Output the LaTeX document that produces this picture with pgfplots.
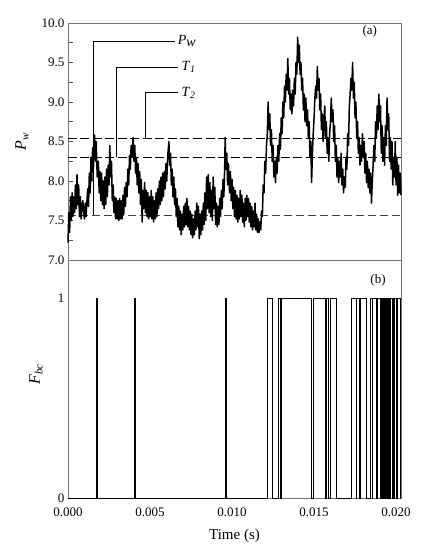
\documentclass[border=0pt]{standalone}
\usepackage{fontspec}
\setmainfont{Liberation Serif}
\usepackage{pgfplots}
\pgfplotsset{compat=1.18}

% time axis in ms, labelled in s
\pgfplotsset{panel/.style={scale only axis, width=333pt, xmin=0, xmax=20.3,
  axis line style={black!55, line width=0.7pt}, tick style={black!70, line width=0.6pt},
  tick align=inside, ticklabel style={font=\fontsize{13}{13}\selectfont},
  /pgf/number format/assume math mode=true}}

\begin{document}
\begin{tikzpicture}
\path[use as bounding box] (0,0) rectangle (421pt,550pt);

% (a) wall pressure with thresholds
\begin{axis}[panel, at={(68pt,290pt)}, anchor=south west, height=237pt,
  ymin=7, ymax=10, ytick={7,7.5,8,8.5,9,9.5,10},
  minor ytick={7.25,7.75,8.25,8.75,9.25,9.75}, ytick pos=left, xtick=\empty,
  yticklabel style={/pgf/number format/.cd,fixed,fixed zerofill,precision=1},
  major tick length=5pt, minor tick length=5pt, clip=false,
  ylabel={\fontsize{16}{16}\selectfont\textit{P}\textsubscript{\textit{w}}},
  ylabel style={at={(axis description cs:-0.138,0.5)}, anchor=center}]
\addplot[black, line width=1.3pt, dash pattern=on 9pt off 3.5pt] coordinates {(0,8.54)(20.3,8.54)};
\addplot[black, line width=1.3pt, dash pattern=on 9pt off 3.5pt] coordinates {(0,8.30)(20.3,8.30)};
\addplot[black!75, line width=0.7pt, dash pattern=on 8pt off 4pt] coordinates {(0,7.57)(20.3,7.57)};
\addplot[black, line width=1.5pt, line join=round] coordinates {
(0.00,7.22)(0.05,7.6)(0.10,7.35)(0.15,7.8)(0.20,7.5)(0.25,7.85)(0.30,7.55)(0.35,7.8)
(0.40,7.6)(0.45,7.95)(0.50,7.65)(0.55,8.08)(0.60,7.7)(0.65,7.95)(0.70,7.55)(0.75,7.8)
(0.80,7.52)(0.90,7.75)(1.00,7.52)(1.05,7.72)(1.10,7.55)(1.20,7.9)(1.25,7.68)(1.30,8.1)
(1.35,7.85)(1.40,8.3)(1.45,8.0)(1.50,8.42)(1.55,8.15)(1.62,8.58)(1.68,8.25)(1.72,8.5)
(1.78,8.05)(1.85,8.25)(1.90,7.85)(1.95,8.12)(2.00,7.75)(2.05,8.1)(2.10,7.7)(2.15,8.0)
(2.20,7.65)(2.25,8.05)(2.30,7.7)(2.35,8.15)(2.40,7.8)(2.45,8.2)(2.50,7.95)(2.55,8.45)
(2.60,8.05)(2.65,8.25)(2.70,7.75)(2.75,7.95)(2.80,7.6)(2.85,7.8)(2.90,7.52)(2.95,7.78)
(3.00,7.52)(3.05,7.75)(3.10,7.5)(3.15,7.78)(3.20,7.52)(3.25,7.75)(3.30,7.52)(3.35,7.82)
(3.40,7.58)(3.45,7.92)(3.50,7.68)(3.55,7.98)(3.60,7.8)(3.65,8.15)(3.70,7.95)(3.75,8.32)
(3.80,8.15)(3.85,8.45)(3.90,8.3)(3.97,8.55)(4.02,8.25)(4.07,8.45)(4.12,8.1)(4.17,8.3)
(4.22,7.95)(4.27,8.22)(4.32,7.85)(4.37,8.12)(4.42,7.7)(4.47,8.02)(4.52,7.48)(4.57,7.88)
(4.62,7.65)(4.67,7.98)(4.72,7.6)(4.77,7.88)(4.82,7.55)(4.87,7.85)(4.92,7.52)(4.97,7.8)
(5.02,7.55)(5.07,7.88)(5.12,7.52)(5.17,7.8)(5.22,7.48)(5.27,7.75)(5.32,7.52)(5.37,7.85)
(5.42,7.55)(5.47,7.9)(5.52,7.65)(5.57,8.0)(5.62,7.7)(5.67,8.05)(5.72,7.75)(5.77,8.1)
(5.82,7.8)(5.87,8.12)(5.92,7.9)(5.97,8.22)(6.02,8.0)(6.08,8.32)(6.15,8.5)(6.20,8.2)
(6.25,8.35)(6.30,7.95)(6.35,8.15)(6.40,7.8)(6.45,8.05)(6.50,7.7)(6.55,7.9)(6.60,7.55)
(6.65,7.78)(6.70,7.42)(6.75,7.68)(6.80,7.38)(6.85,7.62)(6.90,7.32)(6.95,7.58)(7.00,7.38)
(7.05,7.68)(7.10,7.42)(7.15,7.72)(7.20,7.45)(7.25,7.78)(7.30,7.42)(7.35,7.68)(7.40,7.38)
(7.45,7.62)(7.50,7.32)(7.55,7.58)(7.60,7.28)(7.65,7.52)(7.70,7.32)(7.75,7.62)(7.80,7.38)
(7.85,7.72)(7.90,7.42)(7.95,7.68)(8.00,7.27)(8.05,7.58)(8.10,7.32)(8.15,7.62)(8.20,7.38)
(8.25,7.72)(8.30,7.45)(8.35,7.85)(8.40,7.5)(8.45,8.05)(8.50,7.65)(8.55,8.08)(8.60,7.6)
(8.65,7.98)(8.70,7.55)(8.75,7.88)(8.80,7.5)(8.85,8.05)(8.90,7.65)(8.95,7.92)(9.00,7.45)
(9.05,7.72)(9.10,7.42)(9.15,7.68)(9.20,7.45)(9.25,7.78)(9.30,7.55)(9.35,7.88)(9.40,7.65)
(9.45,8.02)(9.50,7.8)(9.55,8.15)(9.58,8.55)(9.63,8.15)(9.68,8.35)(9.73,7.95)(9.78,8.22)
(9.85,7.85)(9.90,8.12)(9.95,7.75)(10.00,8.02)(10.05,7.65)(10.10,7.92)(10.15,7.55)(10.20,7.88)
(10.25,7.52)(10.30,7.82)(10.35,7.48)(10.40,7.78)(10.45,7.52)(10.50,7.88)(10.55,7.55)(10.60,7.82)
(10.65,7.48)(10.70,7.72)(10.75,7.42)(10.80,7.78)(10.85,7.5)(10.90,7.82)(10.95,7.55)(11.00,7.78)
(11.05,7.48)(11.10,7.72)(11.15,7.42)(11.20,7.68)(11.25,7.38)(11.30,7.62)(11.35,7.42)(11.40,7.72)
(11.45,7.38)(11.50,7.58)(11.55,7.35)(11.60,7.52)(11.65,7.35)(11.70,7.48)(11.75,7.38)(11.80,7.62)
(11.85,7.55)(11.90,7.95)(11.95,7.85)(12.00,8.25)(12.05,8.1)(12.10,8.45)(12.15,8.6)(12.20,9.0)
(12.25,8.65)(12.30,8.85)(12.35,8.45)(12.40,8.65)(12.45,8.25)(12.50,8.45)(12.55,8.05)(12.60,8.25)
(12.65,7.98)(12.70,8.3)(12.75,8.1)(12.80,8.45)(12.85,8.25)(12.90,8.6)(12.95,8.4)(13.00,8.8)
(13.05,8.6)(13.10,9.0)(13.15,8.8)(13.20,9.2)(13.25,9.0)(13.30,9.35)(13.35,9.15)(13.40,9.55)
(13.45,9.1)(13.50,9.3)(13.55,8.9)(13.60,9.1)(13.65,8.85)(13.70,9.15)(13.75,8.95)(13.80,9.3)
(13.85,9.1)(13.90,9.5)(13.95,9.35)(14.00,9.82)(14.05,9.5)(14.10,9.72)(14.15,9.35)(14.20,9.5)
(14.25,9.15)(14.30,9.3)(14.35,8.9)(14.40,9.1)(14.45,8.75)(14.50,9.05)(14.55,8.7)(14.60,8.9)
(14.65,8.55)(14.70,8.75)(14.75,8.3)(14.80,8.5)(14.85,7.98)(14.90,8.35)(14.95,8.6)(15.00,8.8)
(15.05,9.05)(15.10,9.2)(15.15,9.05)(15.20,9.45)(15.25,9.15)(15.30,9.3)(15.35,8.9)(15.40,9.1)
(15.45,8.65)(15.50,8.85)(15.55,8.5)(15.60,8.75)(15.65,8.95)(15.70,8.55)(15.75,8.75)(15.80,8.35)
(15.85,8.55)(15.90,8.25)(15.95,8.6)(16.00,8.75)(16.05,9.05)(16.10,8.75)(16.15,8.9)(16.20,8.5)
(16.25,8.7)(16.30,8.25)(16.35,8.45)(16.40,8.05)(16.45,8.3)(16.50,7.98)(16.55,8.25)(16.60,8.05)
(16.65,8.35)(16.70,7.95)(16.75,8.15)(16.80,7.85)(16.85,8.05)(16.90,7.92)(16.95,8.3)(17.00,8.15)
(17.05,8.6)(17.10,8.45)(17.15,8.95)(17.20,9.1)(17.25,9.3)(17.30,9.15)(17.35,9.5)(17.40,9.05)
(17.45,9.25)(17.50,8.8)(17.55,9.0)(17.60,8.55)(17.65,8.75)(17.70,8.35)(17.75,8.55)(17.80,8.2)
(17.85,8.45)(17.90,8.25)(17.95,8.6)(18.00,8.3)(18.05,8.5)(18.10,8.1)(18.15,8.35)(18.20,7.98)
(18.25,8.25)(18.30,7.92)(18.35,8.15)(18.40,7.85)(18.45,8.1)(18.50,7.72)(18.55,8.0)(18.60,8.2)
(18.65,8.45)(18.70,8.25)(18.75,8.75)(18.80,8.55)(18.85,8.95)(18.90,8.65)(18.95,9.1)(19.00,8.75)
(19.05,8.95)(19.10,8.35)(19.15,8.7)(19.20,8.25)(19.25,8.55)(19.30,8.2)(19.35,8.7)(19.40,8.45)
(19.45,9.05)(19.50,8.65)(19.55,8.85)(19.60,8.25)(19.65,8.55)(19.70,8.15)(19.75,8.5)(19.80,7.95)
(19.85,8.3)(19.90,8.05)(19.95,8.5)(20.00,7.95)(20.05,8.3)(20.10,7.82)(20.15,8.2)(20.20,7.85)
(20.25,8.1)(20.30,7.82)};
% leader lines to the curve labels
\addplot[black, line width=0.8pt] coordinates {(1.52,7.57)(1.52,9.77)(6.52,9.77)};
\addplot[black, line width=0.8pt] coordinates {(2.93,8.30)(2.93,9.44)(6.70,9.44)};
\addplot[black, line width=0.8pt] coordinates {(4.74,8.54)(4.74,9.12)(6.70,9.12)};
\node[anchor=west, inner sep=1pt, font=\fontsize{14}{14}\selectfont] at (axis cs:6.62,9.77) {\textit{P}\raisebox{-0.25ex}{\textit{w}}};
\node[anchor=west, inner sep=1pt, font=\fontsize{14}{14}\selectfont] at (axis cs:6.85,9.44) {\textit{T}\textsubscript{\textit{1}}};
\node[anchor=west, inner sep=1pt, font=\fontsize{14}{14}\selectfont] at (axis cs:6.85,9.12) {\textit{T}\textsubscript{\textit{2}}};
\node[font=\fontsize{13}{13}\selectfont] at (axis cs:18.4,9.89) {(a)};
\end{axis}

% (b) binary indicator
\begin{axis}[panel, at={(68pt,52pt)}, anchor=south west, height=238pt,
  ymin=0, ymax=1.19, ytick={0,1}, yticklabels={0,1},
  xtick={0,5,10,15,20}, xticklabels={0.000,0.005,0.010,0.015,0.020},
  major tick length=0pt, xticklabel style={yshift=-6pt},
  xlabel={Time (s)}, xlabel style={font=\fontsize{15}{15}\selectfont, at={(axis description cs:0.5,-0.16)}, anchor=center},
  ylabel={\fontsize{16}{16}\selectfont\textit{F}\textsubscript{\textit{bc}}},
  ylabel style={at={(axis description cs:-0.096,0.52)}, anchor=center}]
\addplot[black, line width=0.6pt] coordinates {
(0,0)(1.72,0)(1.72,1)(1.78,1)(1.78,0)(4.06,0)(4.06,1)(4.12,1)(4.12,0)
(9.60,0)(9.60,1)(9.66,1)(9.66,0)(12.12,0)(12.12,1)(12.48,1)(12.48,0)
(12.82,0)(12.82,1)(12.96,1)(12.96,0)(12.99,0)(12.99,1)(14.86,1)(14.86,0)
(14.95,0)(14.95,1)(15.67,1)(15.67,0)(15.77,0)(15.77,1)(15.87,1)(15.87,0)
(15.98,0)(15.98,1)(16.34,1)(16.34,0)(17.26,0)(17.26,1)(17.57,1)(17.57,0)
(17.60,0)(17.60,1)(17.77,1)(17.77,0)(17.80,0)(17.80,1)(18.20,1)(18.20,0)
(18.45,0)(18.45,1)(18.52,1)(18.52,0)(18.58,0)(18.58,1)(18.82,1)(18.82,0)
(18.88,0)(18.88,1)(19.02,1)(19.02,0)(19.05,0)(19.05,1)(19.12,1)(19.12,0)
(19.15,0)(19.15,1)(19.23,1)(19.23,0)(19.26,0)(19.26,1)(19.33,1)(19.33,0)
(19.36,0)(19.36,1)(19.43,1)(19.43,0)(19.46,0)(19.46,1)(19.53,1)(19.53,0)
(19.56,0)(19.56,1)(19.63,1)(19.63,0)(19.66,0)(19.66,1)(19.74,1)(19.74,0)
(19.77,0)(19.77,1)(19.84,1)(19.84,0)(19.90,0)(19.90,1)(20.04,1)(20.04,0)
(20.10,0)(20.10,1)(20.24,1)(20.24,0)(20.27,0)(20.27,1)(20.3,1)};
\node[font=\fontsize{13}{13}\selectfont] at (axis cs:18.9,1.087) {(b)};
\end{axis}
\end{tikzpicture}
\end{document}
